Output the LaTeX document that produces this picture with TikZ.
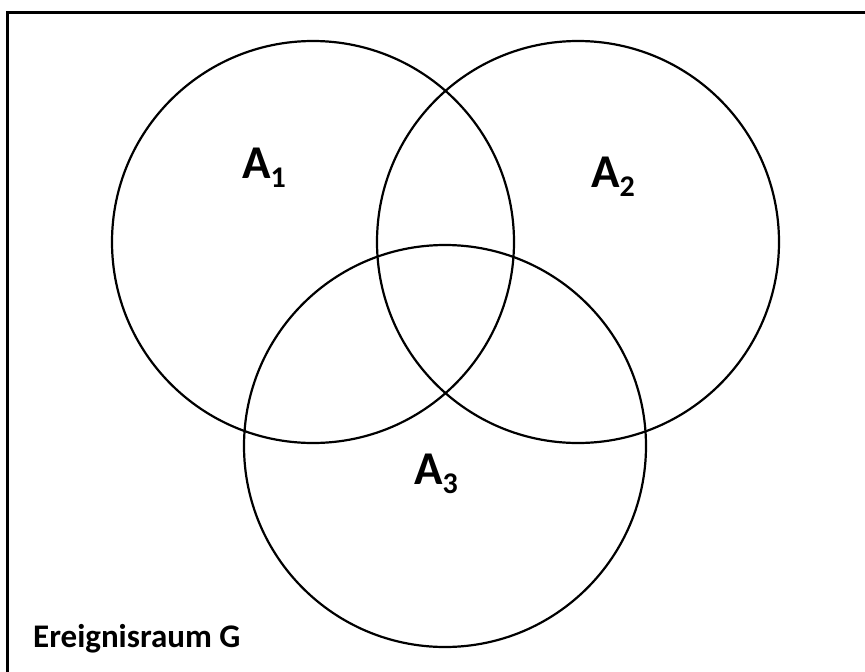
\documentclass[tikz,border=0pt]{standalone}
\usepackage{fontspec}
\setmainfont{Carlito}
\usetikzlibrary{positioning}
\newcommand\evsub[1]{\raisebox{-0.42ex}{\fontsize{30}{30}\selectfont #1}}

\begin{document}
\begin{tikzpicture}[x=1pt,y=-1pt]
\tikzset{
  setcircle/.style={circle,draw,line width=2.2pt,minimum size=402pt,inner sep=0pt},
  setlabel/.style={inner sep=0pt,anchor=base west,font=\fontsize{47}{47}\selectfont\bfseries},
  spacelabel/.style={inner sep=0pt,anchor=base west,font=\fontsize{33}{33}\selectfont\bfseries}
}
\useasboundingbox (0,0) rectangle (865,672);
\clip (0,0) rectangle (865,672);
\draw[line width=3pt] (7,12) rectangle (890,700);
\node[setcircle] (n_A1) at (313,242) {};
\node[setcircle] (n_A2) at (578,242) {};
\node[setcircle] (n_A3) at (445,446) {};
\node[setlabel] (l_A1) at (242,178) {A\evsub{1}};
\node[setlabel] (l_A2) at (591,187) {A\evsub{2}};
\node[setlabel] (l_A3) at (414,484) {A\evsub{3}};
\node[spacelabel] (l_G) at (33,647) {Ereignisraum G};
\end{tikzpicture}
\end{document}
